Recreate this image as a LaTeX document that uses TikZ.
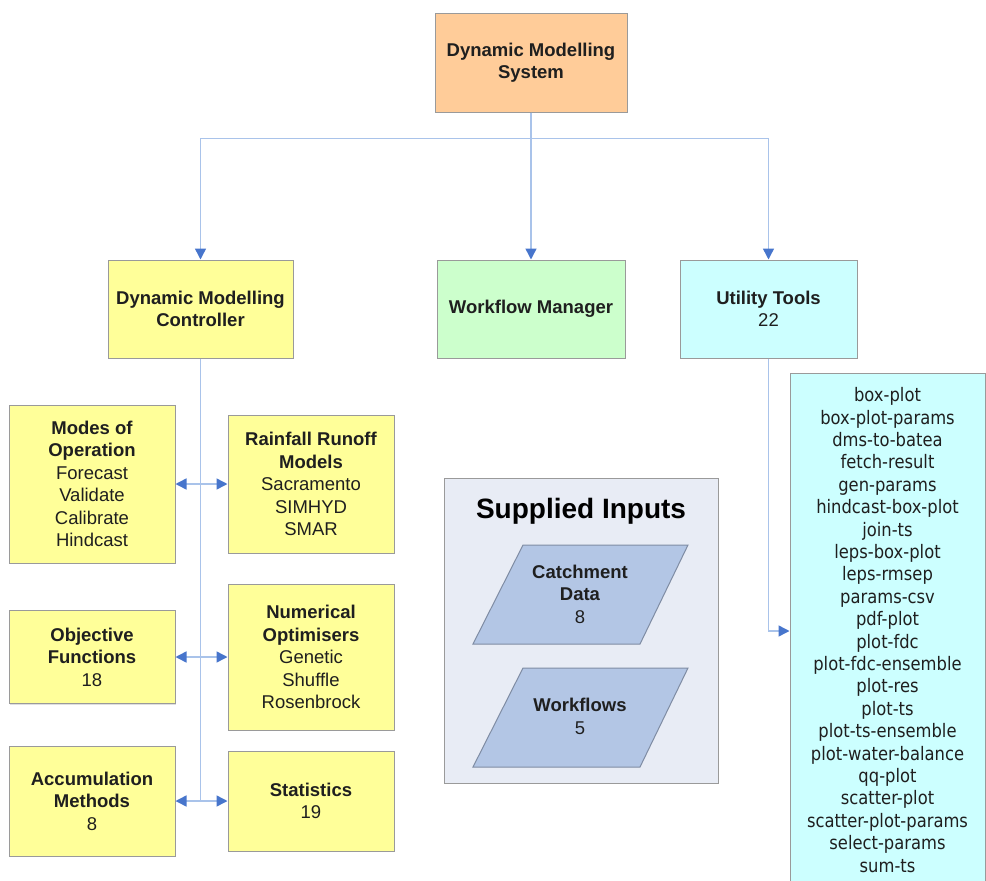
\documentclass[tikz,border=0pt]{standalone}
\usepackage{fontspec}
\setmainfont{Liberation Sans}
\newfontfamily\listfont[FakeStretch=0.88]{DejaVu Sans}
\usetikzlibrary{arrows.meta,shadows}

\definecolor{dmsorange}{HTML}{FFCC99}
\definecolor{dmsyellow}{HTML}{FFFF99}
\definecolor{dmsgreen}{HTML}{CCFFCC}
\definecolor{dmscyan}{HTML}{CCFFFF}
\definecolor{inputbg}{HTML}{E8ECF5}
\definecolor{inputfill}{HTML}{B3C6E5}
\definecolor{inputline}{HTML}{7F8CA3}
\definecolor{linkblue}{HTML}{A9C3EA}
\definecolor{tipblue}{HTML}{4775CC}
\definecolor{boxline}{HTML}{9A9A9A}

\tikzset{
  box/.style={draw=boxline, line width=1pt, align=center, inner sep=2pt, text=black!88,
    font=\fontsize{18.5}{22.5}\selectfont,
    drop shadow={shadow xshift=1.2pt, shadow yshift=-1.2pt, opacity=0.25}},
  link/.style={draw=linkblue, line width=1.5pt},
  linktip/.style={-{Triangle[length=11pt,width=11pt,color=tipblue]}},
  linkboth/.style={{Triangle[length=11pt,width=11pt,color=tipblue]}-{Triangle[length=11pt,width=11pt,color=tipblue]}},
  inputshape/.style={fill=inputfill, draw=inputline, line width=1pt},
  inputtext/.style={align=center, text=black!88, font=\fontsize{18.5}{22.5}\selectfont},
}

\begin{document}
\begin{tikzpicture}[x=1pt, y=-1pt]
\useasboundingbox (0,0) rectangle (986,881);

% top row
\node[box, fill=dmsorange, minimum width=192, minimum height=99] (dms) at (531,62.5)
  {\textbf{Dynamic Modelling}\\\textbf{System}};

% second row
\node[box, fill=dmsyellow, minimum width=185, minimum height=98] (dmc) at (200.5,309)
  {\textbf{Dynamic Modelling}\\\textbf{Controller}};
\node[box, fill=dmsgreen, minimum width=188, minimum height=98] (wfm) at (531,309)
  {\textbf{Workflow Manager}};
\node[box, fill=dmscyan, minimum width=177, minimum height=98] (util) at (768.5,309)
  {\textbf{Utility Tools}\\22};

% controller parts
\node[box, fill=dmsyellow, minimum width=166, minimum height=158] (modes) at (92,484)
  {\textbf{Modes of}\\\textbf{Operation}\\Forecast\\Validate\\Calibrate\\Hindcast};
\node[box, fill=dmsyellow, minimum width=166, minimum height=138] (rainfall) at (311,484)
  {\textbf{Rainfall Runoff}\\\textbf{Models}\\Sacramento\\SIMHYD\\SMAR};
\node[box, fill=dmsyellow, minimum width=166, minimum height=93] (objective) at (92,657)
  {\textbf{Objective}\\\textbf{Functions}\\18};
\node[box, fill=dmsyellow, minimum width=166, minimum height=146] (optimisers) at (311,657)
  {\textbf{Numerical}\\\textbf{Optimisers}\\Genetic\\Shuffle\\Rosenbrock};
\node[box, fill=dmsyellow, minimum width=166, minimum height=110] (accum) at (92,801)
  {\textbf{Accumulation}\\\textbf{Methods}\\8};
\node[box, fill=dmsyellow, minimum width=166, minimum height=100] (stats) at (311,801)
  {\textbf{Statistics}\\19};

% supplied inputs
\node[draw=boxline, fill=inputbg, line width=1pt, minimum width=274, minimum height=305] (inputs) at (581,630.5) {};
\node[font=\fontsize{28}{32}\selectfont\bfseries] (inputstitle) at (581,511) {Supplied Inputs};
\draw[inputshape] (473,644) -- (523,545) -- (688,545) -- (640,644) -- cycle;
\node[inputtext] (catchment) at (580,594) {\textbf{Catchment}\\\textbf{Data}\\8};
\draw[inputshape] (473,767) -- (523,668) -- (688,668) -- (640,767) -- cycle;
\node[inputtext] (workflows) at (580,716.5) {\textbf{Workflows}\\5};

% utility list
\node[box, fill=dmscyan, anchor=north, minimum width=195, inner ysep=14pt,
  font=\listfont\fontsize{18.6}{22.4}\selectfont] (tools) at (887.5,373)
  {box-plot\\box-plot-params\\dms-to-batea\\fetch-result\\gen-params\\hindcast-box-plot\\
   join-ts\\leps-box-plot\\leps-rmsep\\params-csv\\pdf-plot\\plot-fdc\\plot-fdc-ensemble\\
   plot-res\\plot-ts\\plot-ts-ensemble\\plot-water-balance\\qq-plot\\scatter-plot\\
   scatter-plot-params\\select-params\\sum-ts\\ ~};
\coordinate (toolsin) at (tools.west |- 0,631);

% connectors
\draw[link, linktip] (dms.south) -- ++(0,26) -| (dmc.north);
\draw[link, linktip] (dms.south) -- (wfm.north);
\draw[link, linktip] (dms.south) -- ++(0,26) -| (util.north);
\draw[link] (dmc.south) -- (dmc.south |- accum.east);
\draw[link, linkboth] (modes.east) -- (rainfall.west);
\draw[link, linkboth] (objective.east) -- (optimisers.west);
\draw[link, linkboth] (accum.east) -- (stats.west);
\draw[link, linktip] (util.south) |- (toolsin);
\end{tikzpicture}
\end{document}
